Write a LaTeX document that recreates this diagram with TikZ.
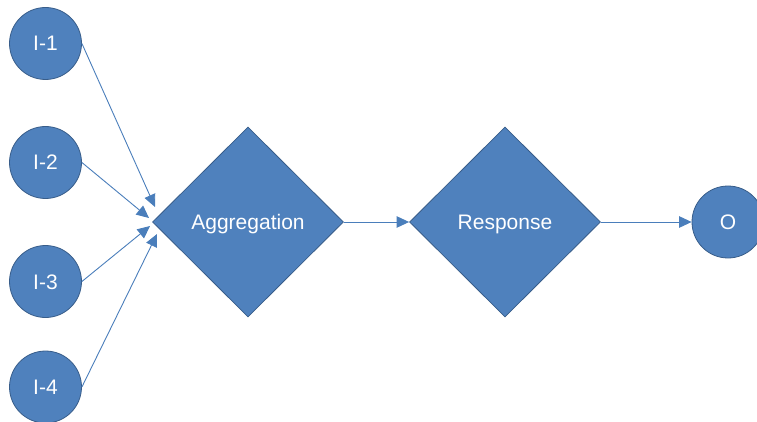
\documentclass[tikz,border=0pt]{standalone}
\usepackage{fontspec}
\setmainfont{Liberation Sans}
\usetikzlibrary{shapes.geometric,arrows.meta}
\definecolor{fillblue}{HTML}{4F81BD}
\definecolor{edgeblue}{HTML}{385D8A}
\definecolor{lineblue}{HTML}{4A7EBB}
\tikzset{
  labeltext/.style={text=white,font=\fontsize{21}{25}\selectfont,text height=15pt,text depth=0pt},
  inputnode/.style={circle,draw=edgeblue,line width=0.8pt,fill=fillblue,minimum size=72pt,inner sep=0pt,labeltext},
  decisionnode/.style={diamond,draw=edgeblue,line width=0.8pt,fill=fillblue,minimum width=191pt,minimum height=190pt,inner sep=0pt,labeltext},
  conn/.style={draw=lineblue,line width=0.9pt,-{Triangle[length=12.5pt,width=11.5pt]}}
}
\begin{document}
\begin{tikzpicture}[x=1pt,y=-1pt]
\useasboundingbox (0,0) rectangle (757,422);
\node[inputnode] (i1) at (45.5,43.5) {I-1};
\node[inputnode] (i2) at (45.5,162.5) {I-2};
\node[inputnode] (i3) at (45.5,281.5) {I-3};
\node[inputnode] (i4) at (45.5,387) {I-4};
\node[decisionnode] (agg) at (248,222) {Aggregation};
\node[decisionnode] (resp) at (505,222) {Response};
\node[inputnode] (o) at (728,222) {O};
\coordinate (t1) at (155,207);
\coordinate (t2) at (149,218);
\coordinate (t3) at (150,226);
\coordinate (t4) at (157,234);
\draw[conn] (i1.east) -- (t1);
\draw[conn] (i2.east) -- (t2);
\draw[conn] (i3.east) -- (t3);
\draw[conn] (i4.east) -- (t4);
\draw[conn] (agg.east) -- (resp.west);
\draw[conn] (resp.east) -- (o.west);
\end{tikzpicture}
\end{document}
